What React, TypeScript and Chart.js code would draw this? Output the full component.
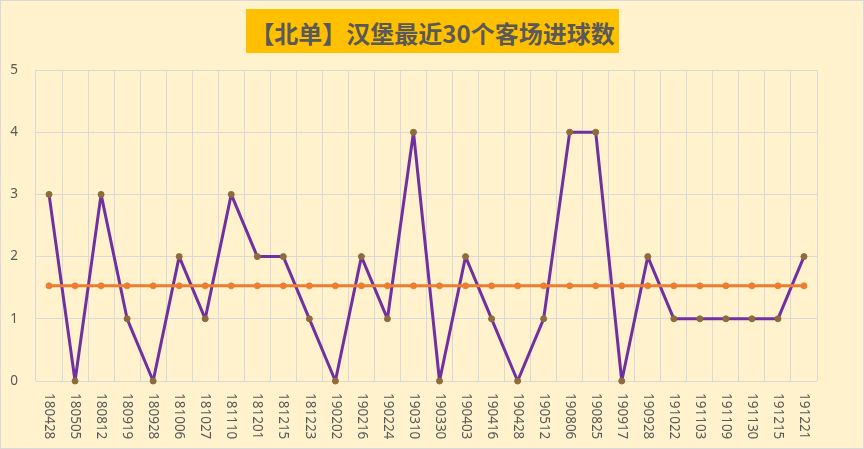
import { Chart, registerables } from 'chart.js';
import { useEffect, useRef } from 'react';

Chart.register(...registerables);

// 汉堡最近30个客场
const matchDates = [
  '180428', '180505', '180812', '180919', '180928', '181006', '181027', '181110', '181201', '181215',
  '181223', '190202', '190216', '190224', '190310', '190330', '190403', '190416', '190428', '190512',
  '190806', '190825', '190917', '190928', '191022', '191103', '191109', '191130', '191215', '191221',
];

const awayGoals = [
  3, 0, 3, 1, 0, 2, 1, 3, 2, 2,
  1, 0, 2, 1, 4, 0, 2, 1, 0, 1,
  4, 4, 0, 2, 1, 1, 1, 1, 1, 2,
];

const avgGoals = [
  1.53, 1.53, 1.53, 1.53, 1.53, 1.53, 1.53, 1.53, 1.53, 1.53,
  1.53, 1.53, 1.53, 1.53, 1.53, 1.53, 1.53, 1.53, 1.53, 1.53,
  1.53, 1.53, 1.53, 1.53, 1.53, 1.53, 1.53, 1.53, 1.53, 1.53,
];

const yTicks = [0, 1, 2, 3, 4, 5];

const TEXT = '#595959';
const GRID = '#D9D9D9';
const FONT = '"Noto Sans", sans-serif';

// x labels read top-to-bottom, which chart.js can't rotate that way by itself
const verticalLabels = {
  id: 'verticalLabels',
  afterDraw(chart: any) {
    const { ctx, chartArea } = chart;
    const x = chart.scales.x;
    ctx.save();
    ctx.font = `13.5px ${FONT}`;
    ctx.fillStyle = TEXT;
    ctx.textAlign = 'left';
    ctx.textBaseline = 'middle';
    matchDates.forEach((label, i) => {
      ctx.save();
      ctx.translate(x.getPixelForTick(i), chartArea.bottom + 12);
      ctx.rotate(Math.PI / 2);
      ctx.fillText(label, 0, 0);
      ctx.restore();
    });
    ctx.restore();
  },
};

function GoalsChart() {
  const chartRef = useRef<HTMLCanvasElement>(null);

  useEffect(() => {
    const context = chartRef.current?.getContext('2d');
    if (!context) return undefined;

    const chartInstance = new Chart(context, {
      type: 'line',
      data: {
        labels: matchDates,
        datasets: [
          {
            label: '进球数',
            data: awayGoals,
            borderColor: '#7030A0',
            borderWidth: 3,
            borderJoinStyle: 'round',
            pointBackgroundColor: '#8E6A3C',
            pointBorderColor: '#8E6A3C',
            pointRadius: 3,
            pointBorderWidth: 1,
            tension: 0,
            clip: false,
            order: 2,
          },
          {
            label: '平均',
            data: avgGoals,
            borderColor: '#ED7D31',
            borderWidth: 3,
            borderJoinStyle: 'round',
            pointBackgroundColor: '#ED7D31',
            pointBorderColor: '#ED7D31',
            pointRadius: 3,
            pointBorderWidth: 1,
            tension: 0,
            clip: false,
            order: 1,
          },
        ],
      },
      options: {
        responsive: false,
        animation: false,
        layout: {
          padding: { top: 70, right: 47, bottom: 68, left: 0 },
        },
        plugins: {
          legend: { display: false },
          tooltip: { enabled: false },
        },
        scales: {
          x: {
            offset: true,
            grid: { offset: true, color: GRID, drawTicks: false },
            border: { display: false },
            ticks: { display: false },
          },
          y: {
            min: yTicks[0],
            max: yTicks[yTicks.length - 1],
            afterFit(scale: any) {
              scale.width = 36;
            },
            grid: { color: GRID, drawTicks: false },
            border: { display: false },
            ticks: {
              stepSize: 1,
              padding: 18,
              color: TEXT,
              font: { family: FONT, size: 13.5 },
            },
          },
        },
      },
      plugins: [verticalLabels],
    });

    return () => {
      chartInstance.destroy();
    };
  }, []);

  return <canvas ref={chartRef} width={864} height={449} style={{ position: 'absolute', left: 0, top: 0 }} />;
}

export default function App() {
  return (
    <div
      style={{
        position: 'absolute',
        left: 0,
        top: 0,
        width: 864,
        height: 449,
        background: '#FFF2CC',
        overflow: 'hidden',
      }}
    >
      <GoalsChart />
      <div
        style={{
          position: 'absolute',
          left: 246,
          top: 9,
          width: 373,
          height: 44,
          background: '#FFC000',
          color: TEXT,
          fontFamily: '"Noto Sans CJK SC", sans-serif',
          fontWeight: 'bold',
          fontSize: 24,
          lineHeight: '48px',
          textAlign: 'center',
          whiteSpace: 'nowrap',
        }}
      >
        【北单】汉堡最近30个客场进球数
      </div>
      <div
        style={{
          position: 'absolute',
          inset: 0,
          border: '1px solid #D9D9D9',
          pointerEvents: 'none',
        }}
      />
    </div>
  );
}
